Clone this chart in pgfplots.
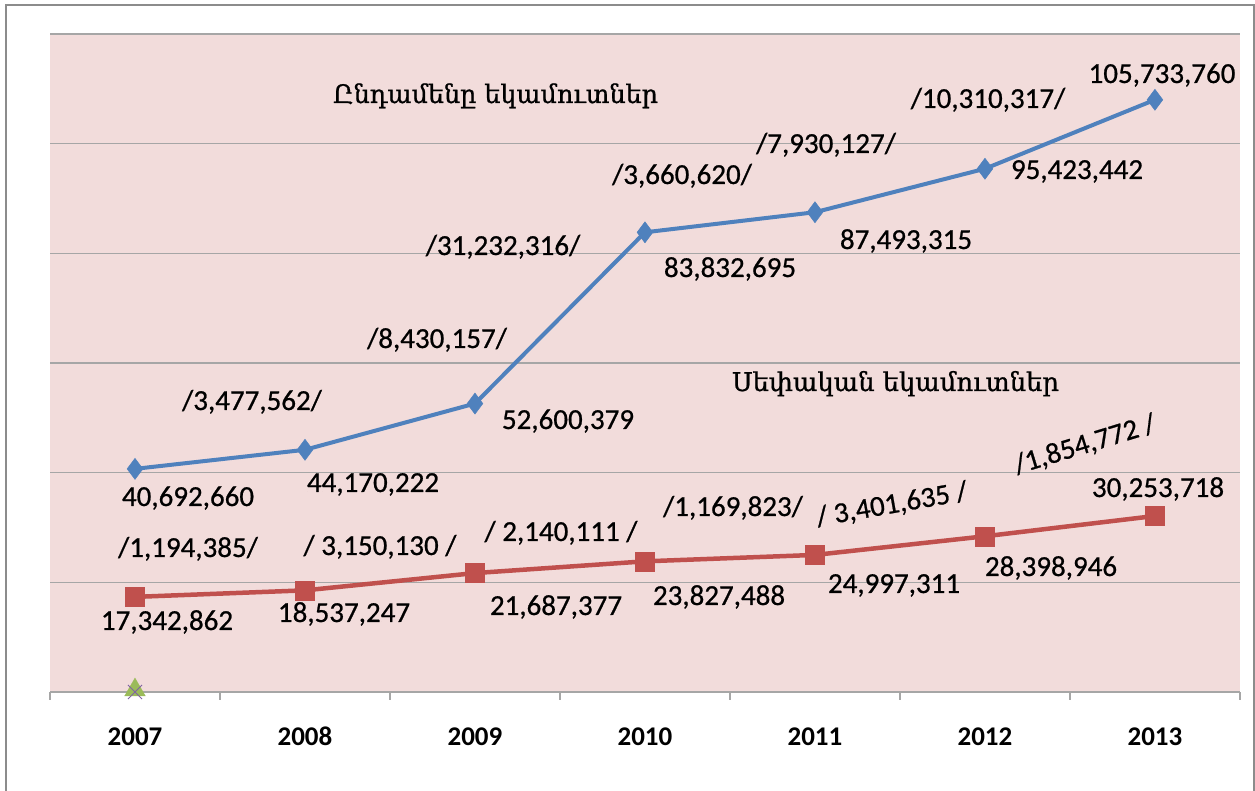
\documentclass[border=0pt]{standalone}
\usepackage{pgfplots}
\pgfplotsset{compat=1.18}
\usepackage{fontspec}
\setmainfont{Carlito}
\newfontfamily\numfam{Carlito}[FakeBold=0.7]
\newfontfamily\armfont{DejaVu Serif}[FakeBold=0.8]
\definecolor{plotbg}{HTML}{F2DCDB}
\definecolor{blueline}{HTML}{4F81BD}
\definecolor{redline}{HTML}{C0504D}
\definecolor{greenm}{HTML}{9BBB59}
\definecolor{purplem}{HTML}{8064A2}
\definecolor{gridc}{HTML}{A6A6A6}
\definecolor{framec}{HTML}{8C8C8C}
\newcommand\numfont{\numfam\fontsize{29bp}{32bp}\selectfont}
\newcommand\lbl[3]{\node[anchor=base, inner sep=0pt, font=\numfont] at ({#1},{782-#2}) {#3};}
\newcommand\rlbl[4]{\node[anchor=center, inner sep=0pt, font=\numfont, rotate=#3] at ({#1},{791-#2}) {#4};}
\begin{document}
\begin{tikzpicture}[x=1bp,y=1bp]
\path[use as bounding box] (0,0) rectangle (1255,791);
\draw[framec, line width=2bp] (6,-5) -- (6,786) -- (1254,786) -- (1254,-5);
\begin{axis}[
  at={(50bp,99bp)}, anchor=south west,
  scale only axis, width=1190bp, height=658bp,
  xmin=-0.5, xmax=6.5, ymin=0, ymax=120000000,
  axis background/.style={fill=plotbg},
  axis x line*=bottom, axis y line*=left,
  axis line style={draw=none},
  xtick={0,1,2,3,4,5,6},
  xticklabels={\textbf{2007},\textbf{2008},\textbf{2009},\textbf{2010},\textbf{2011},\textbf{2012},\textbf{2013}},
  minor xtick={-0.5,0.5,1.5,2.5,3.5,4.5,5.5,6.5},
  major tick length=0pt, minor tick length=8bp,
  tick align=outside,
  xtick style={draw=gridc, line width=1.2bp},
  ytick={0,20000000,40000000,60000000,80000000,100000000,120000000},
  yticklabels={}, ytick style={draw=none},
  scaled y ticks=false,
  ymajorgrids, grid style={draw=gridc, line width=1.2bp},
  xticklabel style={anchor=base, yshift=-54bp, font=\fontsize{27bp}{30bp}\selectfont},
  clip=false,
]
\addplot[blueline, line width=4bp, mark=diamond*, mark size=10.5bp, mark options={line width=0.5bp}]
  coordinates {(0,40692660) (1,44170222) (2,52600379) (3,83832695) (4,87493315) (5,95423442) (6,108000000)};
\addplot[redline, line width=4.5bp, mark=square*, mark size=9.5bp, mark options={line width=0.5bp}]
  coordinates {(0,17342862) (1,18537247) (2,21687377) (3,23827488) (4,24997311) (5,28398946) (6,32100000)};
\addplot[only marks, mark=triangle*, mark size=12bp, mark options={draw=greenm, fill=greenm, line width=0.3bp, yshift=2bp}]
  coordinates {(0,0)};
\addplot[only marks, mark=x, mark size=10bp, mark options={draw=purplem, line width=0.9bp}]
  coordinates {(0,0)};
\end{axis}
\node[anchor=base, inner sep=0pt] at (495.5,{791-103}) {\resizebox{325bp}{!}{\armfont Ընդամենը եկամուտներ}};
\node[anchor=base, inner sep=0pt] at (895.5,{791-391}) {\resizebox{327bp}{!}{\armfont Սեփական եկամուտներ}};
\lbl{188}{497}{40,692,660}
\lbl{373}{483}{44,170,222}
\lbl{568}{420}{52,600,379}
\lbl{730}{268}{83,832,695}
\lbl{906}{240}{87,493,315}
\lbl{1077}{170}{95,423,442}
\lbl{1162}{74}{105,733,760}
\lbl{252}{401}{/3,477,562/}
\lbl{437}{339}{/8,430,157/}
\lbl{503}{246}{/31,232,316/}
\lbl{682}{175}{/3,660,620/}
\lbl{826}{144}{/7,930,127/}
\lbl{988}{99}{/10,310,317/}
\lbl{188}{548}{/1,194,385/}
\lbl{380}{546}{/ 3,150,130 /}
\lbl{561}{532}{/ 2,140,111 /}
\lbl{733}{507}{/1,169,823/}
\rlbl{892}{505}{10}{/ 3,401,635 /}
\rlbl{1085}{445}{17}{/1,854,772 /}
\lbl{167}{621}{17,342,862}
\lbl{344}{613}{18,537,247}
\lbl{556}{606}{21,687,377}
\lbl{719}{596}{23,827,488}
\lbl{894}{584}{24,997,311}
\lbl{1051}{567}{28,398,946}
\lbl{1158}{488}{30,253,718}
\end{tikzpicture}
\end{document}
